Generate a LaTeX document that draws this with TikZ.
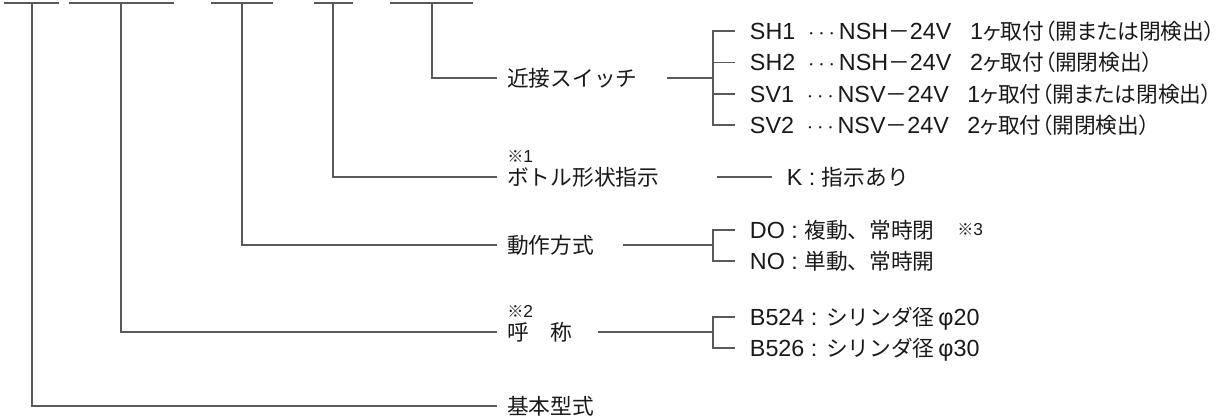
\documentclass[tikz,border=0pt]{standalone}
\usepackage{fontspec}
\setmainfont{Liberation Sans}
\newfontfamily\jp{Noto Sans CJK JP}[Scale=0.93]
\newfontfamily\jpp{Noto Sans CJK JP}[Scale=0.93, RawFeature=+palt]

\begin{document}
\begin{tikzpicture}[x=0.75pt, y=-0.75pt,
    conn/.style={draw=black!65, line width=0.8pt},
    lab/.style={anchor=west, inner xsep=7.5pt, inner ysep=0pt, text height=15.1pt, text depth=2.4pt, text=black!90, font=\fontsize{17.5}{20}\selectfont},
    item/.style={lab, inner xsep=11pt},
    note/.style={anchor=west, inner sep=0pt, text=black!90, font=\fontsize{13}{15}\selectfont}]

                  \useasboundingbox (0,0) rectangle (1227,416);

                  \foreach \a/\b in {4/59,69/174,211/273,314/353,390/473}
                    \draw[conn] (\a,3) -- (\b,3);
                  \coordinate (slotA) at (32,3);
                  \coordinate (slotB) at (121,3);
                  \coordinate (slotC) at (242,3);
                  \coordinate (slotD) at (333,3);
                  \coordinate (slotE) at (432,3);

                  \draw (497,78) node[lab] (prox) {\jp 近接スイッチ};
                  \draw (497,177) node[lab] (bottle) {\jp ボトル形状指示};
                  \draw (497,245) node[lab] (action) {\jp 動作方式};
                  \draw (497,332) node[lab] (size) {\jp 呼　称};
                  \draw (497,406) node[lab] (base) {\jp 基本型式};

                  \draw (507,157) node[note] (note1) {{\jp ※}1};
                  \draw (507,311) node[note] (note2) {{\jp ※}2};
                  \draw (957,230) node[note] (note3) {{\jp ※}3};

                  \draw [conn] (slotA) |- (base.west);
                  \draw [conn] (slotB) |- (size.west);
                  \draw [conn] (slotC) |- (action.west);
                  \draw [conn] (slotD) |- (bottle.west);
                  \draw [conn] (slotE) |- (prox.west);

                  \draw (735,31) node[item] (sh1) {SH1\hspace{0.55em}$\cdots$\,NSH{\jp －}24V\hspace{0.8em}1{\jpp ヶ取付（開または閉検出）}};
                  \draw (735,62.5) node[item] (sh2) {SH2\hspace{0.55em}$\cdots$\,NSH{\jp －}24V\hspace{0.8em}2{\jpp ヶ取付（開閉検出）}};
                  \draw (735,94) node[item] (sv1) {SV1\hspace{0.55em}$\cdots$\,NSV{\jp －}24V\hspace{0.8em}1{\jpp ヶ取付（開または閉検出）}};
                  \draw (735,125) node[item] (sv2) {SV2\hspace{0.55em}$\cdots$\,NSV{\jp －}24V\hspace{0.8em}2{\jpp ヶ取付（開閉検出）}};
                  \coordinate (proxS) at (667,78);
                  \coordinate (proxJ) at (713,78);
                  \draw [conn] (proxS) -- (proxJ);
                  \foreach \n in {sh1,sh2,sv1,sv2}
                    \draw [conn] (proxJ) |- (\n.west);

                  \draw (772,177) node[item] (kopt) {K : {\jp 指示あり}};
                  \coordinate (bottleS) at (717,177);
                  \draw [conn] (bottleS) -- (kopt.west);

                  \draw (735,230) node[item] (dbl) {DO : {\jp 複動、常時閉}};
                  \draw (735,261) node[item] (sgl) {NO : {\jp 単動、常時開}};
                  \coordinate (actionS) at (623,245);
                  \coordinate (actionJ) at (713,245);
                  \draw [conn] (actionS) -- (actionJ);
                  \draw [conn] (actionJ) |- (dbl.west);
                  \draw [conn] (actionJ) |- (sgl.west);

                  \draw (735,317) node[item] (bore20) {B524 : {\jp シリンダ径}\,φ20};
                  \draw (735,348) node[item] (bore30) {B526 : {\jp シリンダ径}\,φ30};
                  \coordinate (sizeS) at (598,332);
                  \coordinate (sizeJ) at (713,332);
                  \draw [conn] (sizeS) -- (sizeJ);
                  \draw [conn] (sizeJ) |- (bore20.west);
                  \draw [conn] (sizeJ) |- (bore30.west);

                \end{tikzpicture}
\end{document}
